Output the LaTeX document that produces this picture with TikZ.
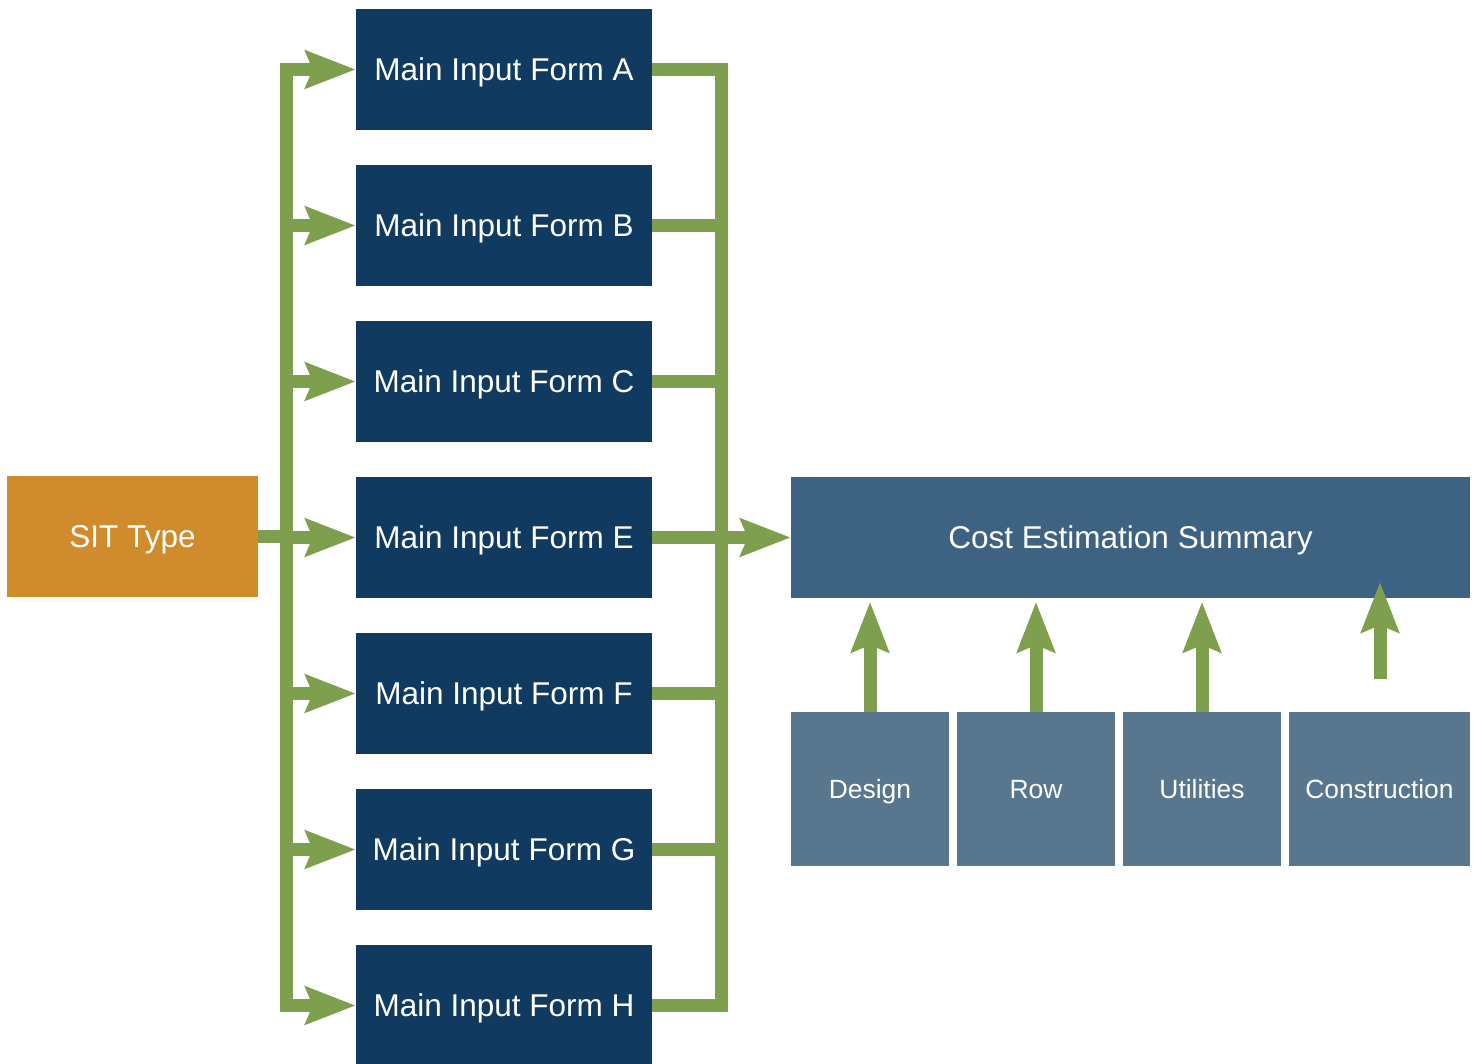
\documentclass[tikz,border=0pt]{standalone}
\usepackage{fontspec}
\setmainfont{Liberation Sans}
\usetikzlibrary{arrows.meta}
\definecolor{sitorange}{HTML}{D08B2D}
\definecolor{navy}{HTML}{103A5F}
\definecolor{summ}{HTML}{3E6382}
\definecolor{sub}{HTML}{58778F}
\definecolor{grn}{HTML}{7E9F4E}
\tikzset{
  bigtext/.style={font=\fontsize{31.5}{37}\selectfont, text height=22.6pt, text depth=0pt},
  formbox/.style={fill=navy, text=white, minimum width=296pt, minimum height=121pt, inner sep=0pt, bigtext},
  sitbox/.style={fill=sitorange, text=white, minimum width=251pt, minimum height=121pt, inner sep=0pt, bigtext},
  sumbox/.style={fill=summ, text=white, minimum width=679pt, minimum height=121pt, inner sep=0pt, bigtext},
  subbox/.style={fill=sub, text=white, minimum height=154pt, inner sep=0pt, font=\fontsize{26.4}{32}\selectfont, text height=19pt, text depth=0pt},
  gline/.style={draw=grn, line width=13pt},
  busline/.style={draw=grn, line width=13pt, line cap=rect},
  garrow/.style={draw=grn, line width=13pt, -{Stealth[length=50pt,width=37pt,inset=7pt]}},
}
\begin{document}
\begin{tikzpicture}[x=1pt,y=-1pt]
\useasboundingbox (0,0) rectangle (1477,1064);
\node[sitbox] (sit) at (132.5,536.5) {SIT Type};
\node[formbox] (A) at (504,69.5) {Main Input Form A};
\node[formbox] (B) at (504,225.5) {Main Input Form B};
\node[formbox] (C) at (504,381.5) {Main Input Form C};
\node[formbox] (E) at (504,537.5) {Main Input Form E};
\node[formbox] (F) at (504,693.5) {Main Input Form F};
\node[formbox] (G) at (504,849.5) {Main Input Form G};
\node[formbox] (H) at (504,1005.5) {Main Input Form H};
\node[sumbox] (sum) at (1130.5,537.5) {Cost Estimation Summary};
\node[subbox, minimum width=158pt] (des) at (870,789) {Design};
\node[subbox, minimum width=158pt] (row) at (1036,789) {Row};
\node[subbox, minimum width=158pt] (uti) at (1202,789) {Utilities};
\node[subbox, minimum width=181pt] (con) at (1379.5,789) {Construction};
% left bus
\coordinate (lt) at (286,69.5);
\coordinate (lb) at (286,1005.5);
\draw[busline] (lt) -- (lb);
\draw[gline] (sit.east) -- (286,536.5);
\foreach \n in {A,B,C,E,F,G,H}{
  \draw[garrow] (\n.west -| lt) -- (\n.west);
}
% right bus
\coordinate (rt) at (721,69.5);
\coordinate (rb) at (721,1005.5);
\draw[busline] (rt) -- (rb);
\foreach \n in {A,B,C,E,F,G,H}{
  \draw[gline] (\n.east) -- (\n.east -| rt);
}
\draw[garrow] (sum.west -| rt) -- (sum.west);
% up arrows
\draw[garrow] (des.north) -- ++(0,-110);
\draw[garrow] (row.north) -- ++(0,-110);
\draw[garrow] (uti.north) -- ++(0,-110);
\coordinate (cs) at (1380,679);
\coordinate (ce) at (1380,582);
\draw[garrow] (cs) -- (ce);
\end{tikzpicture}
\end{document}
